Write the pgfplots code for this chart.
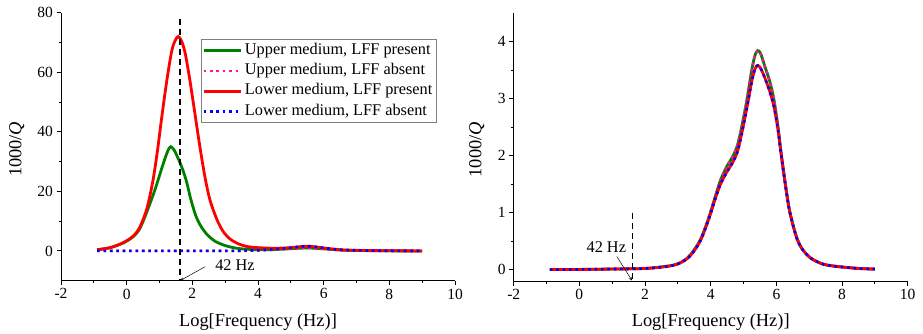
\documentclass[border=0pt]{standalone}
\usepackage{fontspec}
\setmainfont{Liberation Serif}
\usepackage{pgfplots}
\pgfplotsset{compat=1.18}
\usepackage{pgfplotstable}
\definecolor{cgreen}{RGB}{0,128,0}
\definecolor{cpink}{RGB}{255,20,147}
\definecolor{cred}{RGB}{255,0,0}
\definecolor{cblue}{RGB}{0,0,255}

\pgfplotstableread{
x y
-0.9 0.4
-0.5 1.1
-0.1 2.7
0.2 4.8
0.4 7.5
0.61 13
0.86 20.5
1.12 29.5
1.25 33.5
1.34 35
1.45 33.8
1.57 31
1.7 27.5
1.83 23
1.95 17.5
2.1 12
2.25 8.5
2.45 5.5
2.7 3.2
3.0 1.8
3.25 1.1
3.5 0.7
4.0 0.4
4.5 0.45
5.0 0.75
5.5 1.0
6.0 0.7
6.5 0.3
7.0 0.15
8.0 0.03
9.0 0.0
}\LupPres

\pgfplotstableread{
x y
-0.9 0
1.0 0
2.0 0
3.0 0.01
3.5 0.03
4.0 0.15
4.5 0.4
5.0 0.75
5.5 1.0
6.0 0.7
6.5 0.3
7.0 0.15
8.0 0.03
9.0 0.0
}\LupAbs

\pgfplotstableread{
x y
-0.9 0.4
-0.5 1.1
-0.1 2.8
0.2 5
0.4 8
0.61 14
0.79 23
0.93 33
1.07 45
1.22 57
1.37 67
1.47 70.5
1.57 72
1.67 70.5
1.78 66.5
1.93 57
2.08 46
2.23 35
2.39 24.5
2.54 17
2.75 10.5
2.94 6.5
3.15 4
3.4 2.4
3.66 1.5
4.0 1.1
4.5 0.9
5.0 1.1
5.5 1.6
6.0 1.0
6.5 0.4
7.0 0.2
8.0 0.05
9.0 0.0
}\LlowPres

\pgfplotstableread{
x y
-0.9 0
1.0 0
2.0 0
3.0 0.01
3.5 0.05
4.0 0.25
4.5 0.6
5.0 1.1
5.5 1.6
6.0 1.0
6.5 0.4
7.0 0.2
8.0 0.05
9.0 0.0
}\LlowAbs

\pgfplotstableread{
x y
-0.9 0
0 0.003
1 0.01
2 0.02
2.67 0.06
3.0 0.1
3.28 0.2
3.5 0.35
3.69 0.53
3.85 0.76
3.99 1.0
4.15 1.3
4.3 1.57
4.5 1.82
4.65 1.96
4.81 2.17
4.95 2.52
5.11 3.0
5.25 3.5
5.35 3.76
5.43 3.84
5.52 3.79
5.65 3.56
5.8 3.3
5.93 2.97
6.05 2.5
6.13 2.12
6.25 1.6
6.38 1.1
6.5 0.8
6.64 0.53
6.8 0.35
7.05 0.2
7.4 0.1
7.77 0.06
8.5 0.02
9.0 0.01
}\Rup

\pgfplotstableread{
x y
-0.9 0
0 0.003
1 0.01
2 0.02
2.67 0.055
3.0 0.1
3.28 0.19
3.5 0.33
3.69 0.51
3.85 0.74
3.99 0.97
4.15 1.26
4.3 1.5
4.5 1.72
4.65 1.86
4.81 2.06
4.95 2.4
5.11 2.86
5.25 3.3
5.35 3.52
5.43 3.58
5.52 3.53
5.65 3.36
5.8 3.12
5.93 2.85
6.05 2.45
6.13 2.08
6.25 1.58
6.38 1.09
6.5 0.79
6.64 0.52
6.8 0.35
7.05 0.2
7.4 0.1
7.77 0.06
8.5 0.02
9.0 0.01
}\Rlow

\pgfplotsset{
  myaxis/.style={
    scale only axis,
    width=394pt, height=268pt,
    xmin=-2, xmax=10,
    xtick={-2,0,...,10},
    minor x tick num=1,
    axis x line*=bottom, axis y line*=left,
    axis line style={-, line width=0.9pt, black},
    every tick/.style={black, line width=0.9pt},
    tick align=outside,
    major tick length=4.5pt, minor tick length=2.5pt,
    /pgf/number format/assume math mode=true,
    tick label style={font=\fontsize{15.5}{18}\selectfont, black},
    label style={font=\fontsize{18.4}{22}\selectfont},
    xlabel={Log[Frequency (Hz)]},
    ylabel={1000/\textit{Q}},
    xlabel style={at={(axis description cs:0.5,-0.153)}, anchor=center},
    clip=false,
  },
  gline/.style={cgreen, line width=2.8pt, smooth, tension=0.5},
  rline/.style={cred, line width=2.8pt, smooth, tension=0.5},
  pdot/.style={cpink, line width=2.6pt, dash pattern=on 2.6pt off 3.8pt, smooth, tension=0.5},
  bdot/.style={cblue, line width=2.6pt, dash pattern=on 2.6pt off 3.8pt, smooth, tension=0.5},
}

\begin{document}
\begin{tikzpicture}
\useasboundingbox (0pt,0pt) rectangle (923pt,333pt);
\begin{axis}[myaxis,
  at={(61pt,52.3pt)}, anchor=south west,
  ymin=-10, ymax=80,
  ytick={0,20,40,60,80},
  minor y tick num=1,
  ylabel style={at={(axis description cs:-0.112,0.49)}, anchor=center},
  legend style={at={(axis description cs:0.355,0.902)}, anchor=north west,
    draw=gray, line width=0.8pt, fill=white,
    font=\fontsize{16.3}{19}\selectfont,
    inner xsep=1pt, inner ysep=1pt,
    nodes={inner sep=2.9pt, text height=11pt, text depth=3.5pt},
    row sep=0pt},
  legend cell align=left,
  legend image code/.code={\draw[#1] (0pt,0pt) -- (37pt,0pt);},
]
\addplot[gline] table[x=x,y=y] {\LupPres};
\addlegendentry{Upper medium, LFF present}
\addplot[pdot] table[x=x,y=y] {\LupAbs};
\addlegendentry{Upper medium, LFF absent}
\addplot[rline] table[x=x,y=y] {\LlowPres};
\addlegendentry{Lower medium, LFF present}
\addplot[bdot] table[x=x,y=y] {\LlowAbs};
\addlegendentry{Lower medium, LFF absent}
\addplot[black, line width=1.6pt, dash pattern=on 6pt off 4pt, forget plot] coordinates {(1.623,78) (1.623,-10)};
\draw[-stealth, line width=0.5pt] (axis cs:2.39,-5.3) -- (axis cs:1.64,-9.9);
\node[font=\fontsize{16.3}{19}\selectfont, anchor=center] at (axis cs:3.3,-4.8) {42 Hz};
\end{axis}

\begin{axis}[myaxis,
  at={(513.7pt,52pt)}, anchor=south west,
  ymin=-0.2, ymax=4.5,
  ytick={0,1,2,3,4},
  minor y tick num=1,
  ylabel style={at={(axis description cs:-0.094,0.49)}, anchor=center},
]
\addplot[gline] table[x=x,y=y] {\Rup};
\addplot[pdot] table[x=x,y=y] {\Rup};
\addplot[rline] table[x=x,y=y] {\Rlow};
\addplot[bdot] table[x=x,y=y] {\Rlow};
\addplot[black, line width=1.6pt, dash pattern=on 6pt off 4pt] coordinates {(1.623,1.0) (1.623,-0.2)};
\draw[-stealth, line width=0.5pt] (axis cs:1.14,0.23) -- (axis cs:1.6,-0.19);
\node[font=\fontsize{16.3}{19}\selectfont, anchor=center] at (axis cs:0.82,0.40) {42 Hz};
\end{axis}
\end{tikzpicture}
\end{document}
